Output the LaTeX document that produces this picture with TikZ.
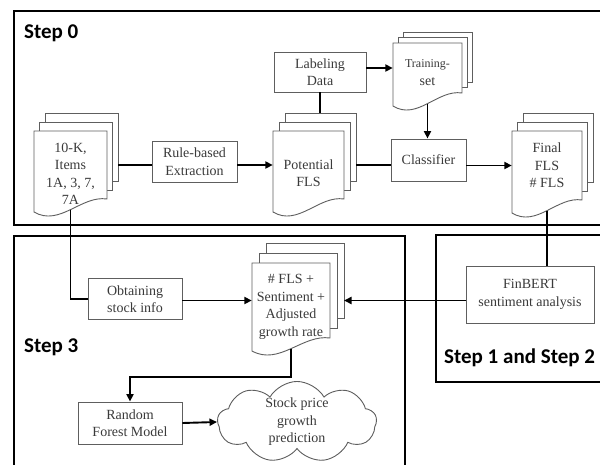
\documentclass[tikz,border=0pt]{standalone}
\usepackage{fontspec}
\setmainfont{Liberation Serif}
\newfontfamily\stepfont{Carlito}
\usetikzlibrary{arrows.meta,shapes.symbols}
\definecolor{edgegray}{HTML}{5E5E5E}
\definecolor{inkgray}{HTML}{3A3A3A}
\tikzset{
  frame/.style={line width=2.4pt},
  conn/.style={line width=1.9pt},
  arr/.style={conn,-{Triangle[length=7.5pt,width=7pt]}},
  box/.style={draw=edgegray,line width=0.9pt,fill=white,align=center,text=inkgray,inner sep=0pt,font=\fontsize{14}{17.5}\selectfont},
  page/.style={draw=edgegray,line width=0.9pt,fill=white},
  doctext/.style={align=center,text=inkgray,inner sep=0pt,font=\fontsize{14}{17.5}\selectfont},
  steplbl/.style={anchor=west,inner sep=0pt,font=\stepfont\bfseries\fontsize{21}{25}\selectfont},
}
% [text shift]{name}{left}{top}{right}{bottom}{dx}{dy}{text}
\newcommand{\docstack}[9][-7]{%
  \foreach \i in {2,1}
    \draw[page] ({#3+\i*#7},{#4-\i*#8}) rectangle ({#5+\i*#7},{#6-\i*#8});
  \draw[page] (#3,#4) -- (#5,#4) -- (#5,#6) .. controls ({#5-0.35*(#5-#3)},{#6-4}) and ({#3+0.35*(#5-#3)},{#6+28}) .. (#3,{#6+13}) -- cycle;
  \node[minimum width={(#5-#3)*1pt},minimum height={(#6-#4)*1pt},inner sep=0pt] (#2) at ({(#3+#5)/2},{(#4+#6)/2}) {};
  \node[doctext,yshift=#1pt] (#2-txt) at (#2) {#9};
  \coordinate (#2-r) at ({#5+2*#7},{(#4+#6)/2});
  \coordinate (#2-t) at ({(#3+#5)/2},{#4-2*#8});
  \coordinate (#2-b) at ({(#3+#5)/2},{#6+10.6});
}
\begin{document}
\begin{tikzpicture}[x=1pt,y=-1pt]
\useasboundingbox (0,0) rectangle (600,464);
% step frames
\draw[frame] (600,11) -- (14,11) -- (14,225) -- (600,225);
\draw[frame] (14,470) -- (14,236) -- (405,236) -- (405,470);
\draw[frame] (600,235) -- (436,235) -- (436,382) -- (600,382);
\node[steplbl] (s0) at (24,33) {Step 0};
\node[steplbl] (s3) at (24,347) {Step 3};
\node[steplbl] (s12) at (444,358) {Step 1 and Step 2};
% documents
\docstack[-9]{ten}{34}{131}{107}{199}{5.5}{9}{10-K,\\Items\\1A, 3, 7,\\7A}
\docstack[-8]{pot}{273}{131}{344}{199}{6}{9}{Potential\\FLS}
\docstack[-4.5]{trn}{393}{43}{462}{93}{5}{5.5}{\fontsize{12}{15}\selectfont Training-\\set}
\docstack[0]{ffl}{512}{131}{582}{200}{5.5}{9}{Final\\FLS\\\# FLS}
\docstack[-6.5]{sum}{252}{263}{330}{338}{7}{10}{\# FLS +\\Sentiment +\\Adjusted\\growth rate}
% boxes
\node[box,minimum width=85pt,minimum height=41pt] (ext) at (194.5,161.5) {Rule-based\\Extraction};
\node[box,minimum width=92pt,minimum height=40pt] (lab) at (320,72) {Labeling\\Data};
\node[box,minimum width=75pt,minimum height=42pt] (cls) at (428.5,160) {Classifier};
\node[box,minimum width=128pt,minimum height=57pt] (fin) at (530,294.5) {FinBERT\\sentiment analysis};
\node[box,minimum width=94pt,minimum height=41pt] (obt) at (135,299) {Obtaining\\stock info};
\node[box,minimum width=104pt,minimum height=42pt] (rf) at (130,423) {Random\\Forest Model};
\node[box,cloud,cloud puffs=9,cloud puff arc=120,cloud ignores aspect,minimum width=159pt,minimum height=64pt] (cld) at (297,422) {Stock price\\growth\\prediction};
% connectors
\draw[conn] (ten-r) -- (ten-r -| ext.west);
\draw[arr] (ext.east |- pot.west) -- (pot.west);
\draw[conn] (lab.south) -- (lab.south |- pot-t);
\draw[arr] (lab.east |- trn.west) -- (trn.west);
\draw[arr] (trn-b) -- (trn-b |- cls.north);
\draw[conn] (pot-r) -- (pot-r -| cls.west);
\draw[arr] (cls.east |- ffl.west) -- (ffl.west);
\draw[conn] (ffl-b) -- (ffl-b |- fin.north);
\draw[arr] (fin.west |- sum-r) -- (sum-r);
\draw[conn] (ten-b) |- (obt.west);
\draw[arr] (obt.east |- sum.west) -- (sum.west);
\draw[arr] (sum-b) -- ++(0,28) -| (rf.north);
\draw[arr] (rf.east) -- (cld.west);
\end{tikzpicture}
\end{document}
